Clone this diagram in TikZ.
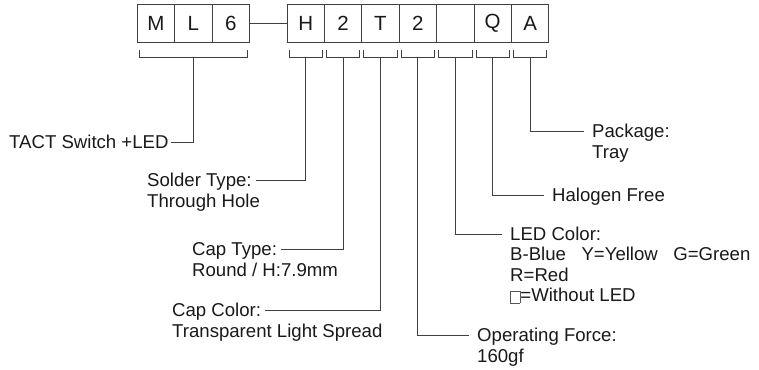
\documentclass[tikz,border=0pt]{standalone}
\usepackage{fontspec}
\setmainfont{Liberation Sans}
\usetikzlibrary{positioning,calc}

% empty square used in the LED colour list
\newcommand{\noledbox}{{\color{black!65}\fboxsep=0pt\fboxrule=0.6pt\fbox{\rule[-1.5pt]{0pt}{11pt}\hspace{9pt}}}}

\begin{document}
\begin{tikzpicture}[
  x=1pt, y=-1pt,
  cell/.style={draw=black!75, line width=0.9pt, minimum width=37.4pt, minimum height=38.3pt, inner sep=0pt, text=black!90, font=\fontsize{20.5}{22}\selectfont},
  lbl/.style={inner sep=0pt, text height=13.3pt, text depth=0pt, anchor=west, text=black!90, font=\fontsize{18.6}{21}\selectfont},
  ln/.style={draw=black!75, line width=0.9pt},
  to left/.style={ln, shorten >=4pt},
  to right/.style={ln, shorten >=8pt}
]
  \useasboundingbox (0,0) rectangle (759,369);

  % code boxes
  \foreach \t [count=\i] in {M,L,6}
    \node[cell] (m\i) at ({137.3+37.4*(\i-0.5)},23.2) {\t};
  \foreach \t [count=\i] in {H,2,T,2,{},Q,A}
    \node[cell] (p\i) at ({287+37.4*(\i-0.5)},23.2) {\t};
  \draw[ln] (m3.east) -- (p1.west);

  % brackets under the boxes
  \draw[ln] ($(m1.south west)+(2.5,7.2)$) -- ++(0,7) -| ($(m3.south east)+(-2.5,7.2)$);
  \coordinate (k0) at ($(m2.south)+(0,14.2)$);
  \foreach \i in {1,...,7} {
    \draw[ln] ($(p\i.south west)+(2.5,7.2)$) -- ++(0,7) -| ($(p\i.south east)+(-2.5,7.2)$);
    \coordinate (k\i) at ($(p\i.south)+(0,14.2)$);
  }

  % labels on the left
  \node[lbl] (tact) at (9,142) {TACT Switch +LED};
  \draw[ln, shorten >=2pt] (k0) |- (tact.east);

  \node[lbl] (solder) at (147,180) {Solder Type:};
  \node[lbl, below=7pt of solder.south west, anchor=north west] (solderval) {Through Hole};
  \draw[to left] (k1) |- (solder.east);

  \node[lbl] (captype) at (192,249) {Cap Type:};
  \node[lbl, below=7pt of captype.south west, anchor=north west] (captypeval) {Round / H:7.9mm};
  \draw[to left] (k2) |- (captype.east);

  \node[lbl] (capcolor) at (172,310) {Cap Color:};
  \node[lbl, below=7pt of capcolor.south west, anchor=north west] (capcolorval) {Transparent Light Spread};
  \draw[to left] (k3) |- (capcolor.east);

  % labels on the right
  \node[lbl] (force) at (477,335) {Operating Force:};
  \node[lbl, below=7pt of force.south west, anchor=north west] (forceval) {160gf};
  \draw[to right] (k4) |- (force.west);

  \node[lbl] (led) at (510,234) {LED Color:};
  \node[lbl, below=6.5pt of led.south west, anchor=north west] (led1) {B-Blue\hspace{15.5pt}Y=Yellow\hspace{15.5pt}G=Green};
  \node[lbl, below=6.5pt of led1.south west, anchor=north west] (led2) {R=Red};
  \node[lbl, below=6.5pt of led2.south west, anchor=north west] (led3) {\noledbox=Without LED};
  \draw[to right] (k5) |- (led.west);

  \node[lbl] (halogen) at (552,195) {Halogen Free};
  \draw[to right] (k6) |- (halogen.west);

  \node[lbl] (pack) at (592,131) {Package:};
  \node[lbl, below=7pt of pack.south west, anchor=north west] (packval) {Tray};
  \draw[to right] (k7) |- (pack.west);
\end{tikzpicture}
\end{document}
